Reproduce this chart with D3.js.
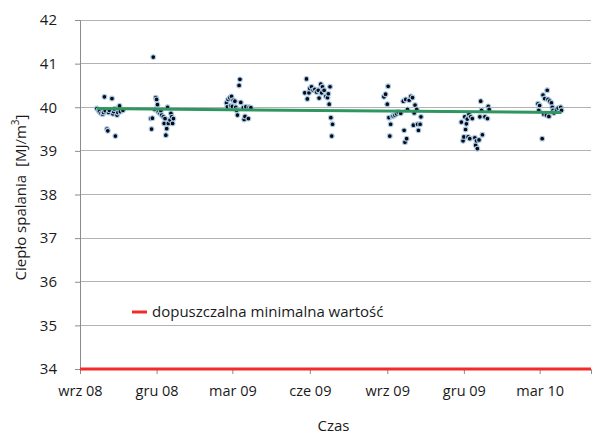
<!DOCTYPE html>
<html>
<head>
<meta charset="utf-8">
<script src="https://cdn.jsdelivr.net/npm/d3@7"></script>
<style>
  body { margin: 0; background: #fff; }
  text { font-family: "Open Sans", sans-serif; fill: #1a1a1a; }
</style>
</head>
<body>
<div id="chart"></div>
<script>
// measurement dates and heat of combustion values
const dates = [
  "2008-09-21","2008-09-23","2008-09-24","2008-09-26","2008-09-28","2008-09-29","2008-09-30","2008-10-01",
  "2008-10-03","2008-10-04","2008-10-05","2008-10-06","2008-10-09","2008-10-10","2008-10-11","2008-10-12",
  "2008-10-13","2008-10-15","2008-10-16","2008-10-17","2008-10-18","2008-10-19","2008-10-22",
  "2008-11-24","2008-11-25","2008-11-26","2008-11-27","2008-11-29","2008-11-30","2008-12-01","2008-12-02",
  "2008-12-03","2008-12-05","2008-12-06","2008-12-07","2008-12-09","2008-12-10","2008-12-11","2008-12-12",
  "2008-12-13","2008-12-14","2008-12-15","2008-12-17","2008-12-18","2008-12-19","2008-12-20","2008-12-21",
  "2009-02-22","2009-02-23","2009-02-24","2009-02-26","2009-02-27","2009-02-28","2009-03-01","2009-03-02",
  "2009-03-04","2009-03-05","2009-03-06","2009-03-07","2009-03-09","2009-03-10","2009-03-11","2009-03-14",
  "2009-03-15","2009-03-16","2009-03-17","2009-03-20","2009-03-21","2009-03-23",
  "2009-05-26","2009-05-28","2009-05-29","2009-05-31","2009-06-01","2009-06-03","2009-06-05","2009-06-07",
  "2009-06-09","2009-06-11","2009-06-12","2009-06-14","2009-06-15","2009-06-16","2009-06-18","2009-06-20",
  "2009-06-22","2009-06-23","2009-06-24","2009-06-25","2009-06-26","2009-06-27","2009-06-28",
  "2009-08-28","2009-08-30","2009-09-01","2009-09-02","2009-09-03","2009-09-04","2009-09-05","2009-09-07",
  "2009-09-08","2009-09-10","2009-09-12","2009-09-14","2009-09-17","2009-09-20","2009-09-21","2009-09-22",
  "2009-09-23","2009-09-24","2009-09-25","2009-09-27","2009-09-29","2009-10-01","2009-10-02","2009-10-03",
  "2009-10-04","2009-10-06","2009-10-07","2009-10-08","2009-10-10","2009-10-11",
  "2009-11-28","2009-11-30","2009-12-01","2009-12-02","2009-12-03","2009-12-04","2009-12-05","2009-12-06",
  "2009-12-07","2009-12-08","2009-12-09","2009-12-11","2009-12-14","2009-12-15","2009-12-16","2009-12-17",
  "2009-12-19","2009-12-20","2009-12-21","2009-12-22","2009-12-23","2009-12-26","2009-12-29","2009-12-30",
  "2009-12-31",
  "2010-02-27","2010-02-28","2010-03-01","2010-03-04","2010-03-05","2010-03-06","2010-03-07","2010-03-09",
  "2010-03-10","2010-03-11","2010-03-12","2010-03-13","2010-03-15","2010-03-16","2010-03-17","2010-03-18",
  "2010-03-21","2010-03-23","2010-03-26","2010-03-27"
];
const values = [
  39.97,39.93,39.90,39.86,39.84,39.88,40.24,39.92,
  39.50,39.46,39.88,39.93,40.20,39.85,39.90,39.96,
  39.34,39.82,39.88,40.00,40.03,39.90,39.93,
  39.74,39.50,39.75,41.15,39.95,40.22,40.18,40.06,
  39.89,39.86,39.92,39.82,39.78,39.63,39.74,39.36,
  39.51,40.00,39.63,39.71,39.86,39.78,39.63,39.74,
  40.10,40.01,40.18,40.22,40.03,40.25,40.02,40.16,
  40.14,40.00,39.93,39.82,40.50,40.64,40.11,39.99,
  39.72,39.79,40.01,39.74,40.00,39.99,
  40.33,40.65,40.19,40.33,40.43,40.47,40.39,40.41,
  40.35,40.39,40.21,40.53,40.33,40.47,40.39,40.25,
  40.22,40.31,40.07,40.47,39.76,39.34,39.61,
  40.24,40.30,40.07,40.48,39.76,39.34,39.61,39.79,
  39.80,39.82,39.85,39.89,39.86,40.14,39.47,39.20,
  40.18,39.28,39.95,40.16,40.25,40.22,39.59,39.87,
  40.05,39.95,39.61,39.47,39.61,39.78,
  39.66,39.23,39.32,39.78,39.49,39.62,39.73,39.32,
  39.84,39.28,39.78,39.74,39.30,39.13,39.23,39.05,
  39.25,39.78,40.14,39.93,39.37,39.78,39.74,40.02,
  39.95,
  40.08,39.93,40.04,39.28,40.28,39.84,40.20,39.82,
  40.39,40.18,39.79,40.14,40.10,40.00,39.93,39.87,
  39.95,39.98,40.00,39.93
];
// linear trend line, start and end
const trendDates = ["2008-09-21", "2010-03-27"];
const trendValues = [39.97, 39.88];
// minimum allowed value
const limitValue = 34;
const limitLabel = "dopuszczalna minimalna wartość";

const tickDates = ["2008-09-01","2008-12-01","2009-03-01","2009-06-01","2009-09-01","2009-12-01","2010-03-01"];
const tickLabels = ["wrz 08","gru 08","mar 09","cze 09","wrz 09","gru 09","mar 10"];
const yTicks = [34, 35, 36, 37, 38, 39, 40, 41, 42];

const parse = d3.timeParse("%Y-%m-%d");
const W = 606, H = 435;
const mLeft = 80, mRight = 591, mTop = 20, mBottom = 369;

const svg = d3.select("#chart").append("svg")
  .attr("width", W)
  .attr("height", H);

const x = d3.scaleTime()
  .domain([parse("2008-09-01"), parse("2010-05-01")])
  .range([mLeft, mRight]);
const y = d3.scaleLinear()
  .domain([34, 42])
  .range([mBottom, mTop]);

// gridlines
svg.append("g")
  .selectAll("line")
  .data(yTicks.filter(d => d > 34))
  .join("line")
  .attr("x1", mLeft).attr("x2", mRight)
  .attr("y1", d => y(d)).attr("y2", d => y(d))
  .attr("stroke", "#b2b2b2")
  .attr("stroke-width", 1)
  .attr("shape-rendering", "crispEdges");

// y axis
const yAxis = svg.append("g")
  .attr("transform", `translate(${mLeft},0)`)
  .call(d3.axisLeft(y).tickValues(yTicks).tickSize(5).tickPadding(18).tickFormat(d3.format("d")));
yAxis.select(".domain").attr("stroke", "#8c8c8c");
yAxis.selectAll(".tick line").attr("stroke", "#8c8c8c");
yAxis.selectAll("text").style("font-size", "15px").attr("fill", "#1a1a1a");

// x axis
const xAxis = svg.append("g")
  .attr("transform", `translate(0,${mBottom})`)
  .call(d3.axisBottom(x)
    .tickValues(tickDates.map(parse))
    .tickSize(5)
    .tickPadding(12)
    .tickFormat((d, i) => tickLabels[i]));
xAxis.select(".domain").attr("stroke", "#8c8c8c");
xAxis.selectAll(".tick line").attr("stroke", "#8c8c8c");
xAxis.selectAll("text").style("font-size", "14.5px").attr("fill", "#1a1a1a");

// limit line
svg.append("line")
  .attr("x1", mLeft).attr("x2", mRight)
  .attr("y1", y(limitValue)).attr("y2", y(limitValue))
  .attr("stroke", "#f22a2a")
  .attr("stroke-width", 3);

// points
svg.append("g")
  .selectAll("circle")
  .data(dates.map((d, i) => ({ date: parse(d), value: values[i] })))
  .join("circle")
  .attr("cx", d => x(d.date))
  .attr("cy", d => y(d.value))
  .attr("r", 2.4)
  .attr("fill", "#0a0a14")
  .attr("stroke", "#a9cbe8")
  .attr("stroke-width", 1.1);

// trend
svg.append("path")
  .datum(trendDates.map((d, i) => ({ date: parse(d), value: trendValues[i] })))
  .attr("d", d3.line().x(d => x(d.date)).y(d => y(d.value)))
  .attr("fill", "none")
  .attr("stroke", "#2f9660")
  .attr("stroke-width", 3);

// legend
svg.append("line")
  .attr("x1", 132).attr("x2", 147)
  .attr("y1", 312).attr("y2", 312)
  .attr("stroke", "#f22a2a")
  .attr("stroke-width", 3);
svg.append("text")
  .attr("x", 152).attr("y", 312)
  .attr("dy", "0.35em")
  .style("font-size", "15px")
  .text(limitLabel);

// axis titles
svg.append("text")
  .attr("x", (mLeft + mRight) / 2 - 2).attr("y", 426)
  .attr("dy", "0.35em")
  .attr("text-anchor", "middle")
  .style("font-size", "15px")
  .text("Czas");

const yTitle = svg.append("text")
  .attr("transform", `translate(21,${(mTop + mBottom) / 2 + 3}) rotate(-90)`)
  .attr("text-anchor", "middle")
  .attr("dy", "0.35em")
  .style("font-size", "15px")
  .style("white-space", "pre");
yTitle.append("tspan").text("Ciepło spalania  [MJ/m");
yTitle.append("tspan").attr("baseline-shift", "super").style("font-size", "10px").text("3");
yTitle.append("tspan").text("]");
</script>
</body>
</html>
